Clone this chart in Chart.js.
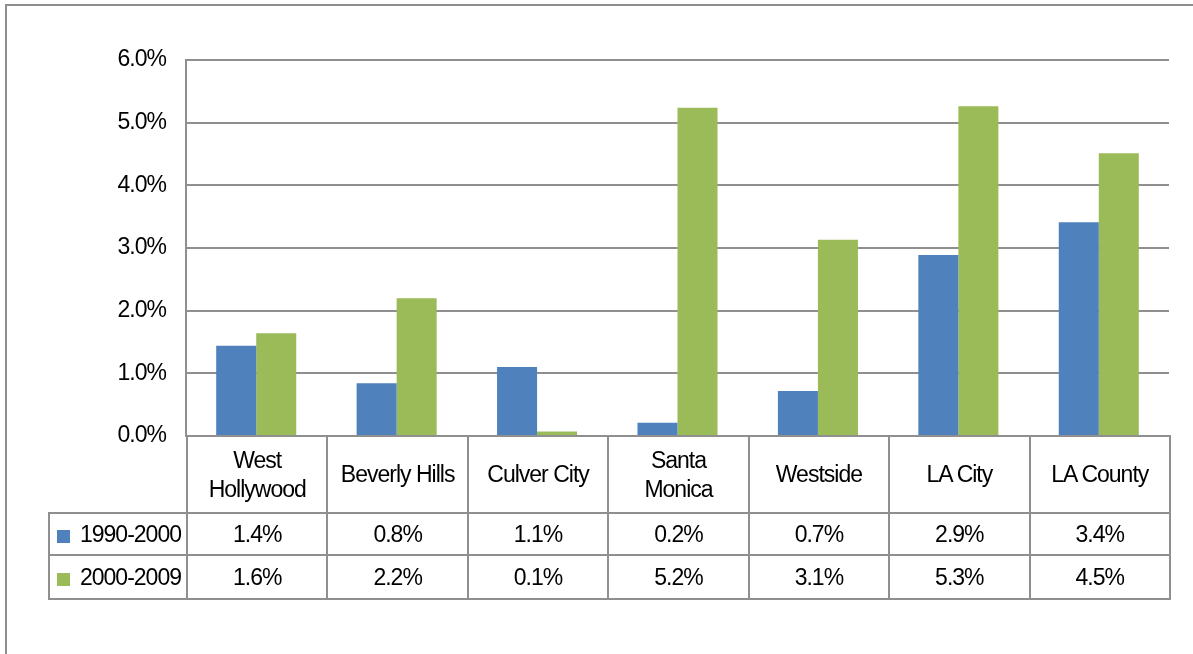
<!DOCTYPE html>
<html>
<head>
<meta charset="utf-8">
<script src="https://cdn.jsdelivr.net/npm/chart.js@4.4.1/dist/chart.umd.min.js"></script>
<style>
  body { margin: 0; background: #fff; }
  #wrap { position: relative; width: 1193px; height: 654px; overflow: hidden; background: #fff; }
  #frame { position: absolute; left: 5px; top: 4px; width: 1250px; height: 700px; border: 2px solid #8f8f8f; }
  #grafico { position: absolute; left: 0; top: 0; }
  #tabela { position: absolute; border-collapse: collapse; table-layout: fixed;
    font-family: "Liberation Sans", Arial, sans-serif; font-size: 23px; letter-spacing: -1px; color: #000; }
  #tabela td { border: 2px solid #8f8f8f; text-align: center; vertical-align: middle; padding: 0; line-height: 29px; }
  #tabela td.canto { border-top: hidden; border-left: hidden; }
  #tabela td.legenda { text-align: left; padding-left: 7px; white-space: nowrap; }
  .marca { display: inline-block; width: 13px; height: 13px; margin-right: 10px; vertical-align: -1px; }
</style>
</head>
<body>
<div id="wrap">
  <div id="frame"></div>
  <canvas id="grafico" width="1193" height="654"></canvas>
  <table id="tabela"></table>
</div>
<script>
// dados
const categorias = [['West', 'Hollywood'], 'Beverly Hills', 'Culver City', ['Santa', 'Monica'], 'Westside', 'LA City', 'LA County'];
const serie1990 = [1.44, 0.84, 1.1, 0.21, 0.72, 2.89, 3.41];
const serie2000 = [1.64, 2.2, 0.07, 5.24, 3.13, 5.26, 4.51];
const tabela1990 = ['1.4%', '0.8%', '1.1%', '0.2%', '0.7%', '2.9%', '3.4%'];
const tabela2000 = ['1.6%', '2.2%', '0.1%', '5.2%', '3.1%', '5.3%', '4.5%'];
const nomesSeries = ['1990-2000', '2000-2009'];
const coresSeries = ['#4f81bd', '#9bbb59'];
const ticksY = ['0.0%', '1.0%', '2.0%', '3.0%', '4.0%', '5.0%', '6.0%'];

Chart.defaults.font.family = '"Liberation Sans", Arial, sans-serif';
Chart.defaults.font.size = 23;
Chart.defaults.color = '#000';

const ctx = document.getElementById('grafico');
const grafico = new Chart(ctx, {
  type: 'bar',
  data: {
    labels: categorias,
    datasets: [{
      label: nomesSeries[0],
      data: serie1990,
      backgroundColor: coresSeries[0],
      categoryPercentage: 0.57,
      barPercentage: 1.0
    }, {
      label: nomesSeries[1],
      data: serie2000,
      backgroundColor: coresSeries[1],
      categoryPercentage: 0.57,
      barPercentage: 1.0
    }]
  },
  options: {
    responsive: false,
    animation: false,
    devicePixelRatio: 1,
    layout: { padding: { left: 0, top: 60, right: 24, bottom: 218 } },
    plugins: { legend: { display: false }, tooltip: { enabled: false } },
    scales: {
      x: { display: false },
      y: {
        min: 0,
        max: 6,
        afterFit: (escala) => { escala.width = 186; },
        ticks: {
          stepSize: 1,
          padding: 20,
          callback: (v, i) => ticksY[i]
        },
        grid: { color: '#8f8f8f', lineWidth: 2, drawTicks: false },
        border: { display: true, color: '#8f8f8f', width: 2 }
      }
    }
  },
  plugins: [{
    id: 'apertado',
    beforeDraw(c) { c.ctx.letterSpacing = '-1px'; }
  }]
});

// monta a tabela de dados embaixo do grafico
function montarTabela() {
  const area = grafico.chartArea;
  const larguraLegenda = 138;
  const larguraCol = (area.right - area.left) / categorias.length;
  const tabela = document.getElementById('tabela');
  tabela.style.left = (area.left - larguraLegenda) + 'px';
  tabela.style.top = (area.bottom - 1) + 'px';
  tabela.style.width = (larguraLegenda + larguraCol * categorias.length) + 'px';

  let html = '<colgroup><col style="width:' + larguraLegenda + 'px">';
  categorias.forEach(() => { html += '<col style="width:' + larguraCol + 'px">'; });
  html += '</colgroup>';

  html += '<tr style="height:77px"><td class="canto"></td>';
  categorias.forEach((cat) => {
    const linhas = Array.isArray(cat) ? cat : [cat];
    html += '<td>' + linhas.join('<br>') + '</td>';
  });
  html += '</tr>';

  const linhasTabela = [tabela1990, tabela2000];
  const alturas = [42, 44];
  linhasTabela.forEach((valores, s) => {
    html += '<tr style="height:' + alturas[s] + 'px"><td class="legenda"><span class="marca" style="background:' +
      coresSeries[s] + '"></span>' + nomesSeries[s] + '</td>';
    valores.forEach((v) => { html += '<td>' + v + '</td>'; });
    html += '</tr>';
  });
  tabela.innerHTML = html;
}
montarTabela();
</script>
</body>
</html>
